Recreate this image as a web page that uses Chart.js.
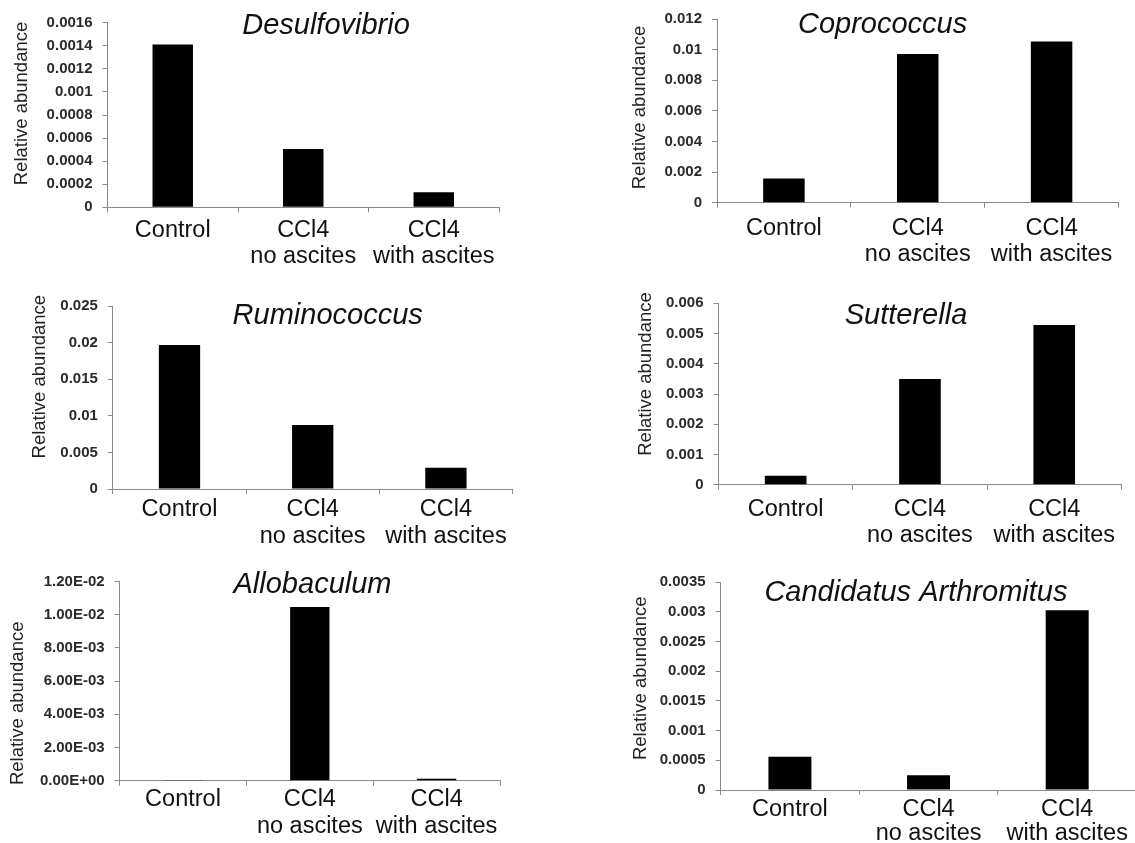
<!DOCTYPE html>
<html><head><meta charset="utf-8">
<script src="https://cdn.jsdelivr.net/npm/chart.js@4.4.0/dist/chart.umd.min.js"></script>
<style>
html,body{margin:0;padding:0;background:#fff;width:1135px;height:843px;overflow:hidden;position:relative}
canvas{position:absolute}
</style></head><body>
<script>
// ---------- data ----------
const categories = ['Control', ['CCl4', 'no ascites'], ['CCl4', 'with ascites']];
const yAxisTitle = 'Relative abundance';
const titles = ['Desulfovibrio', 'Coprococcus', 'Ruminococcus', 'Sutterella', 'Allobaculum', 'Candidatus Arthromitus'];

const desulfovibrio = [0.00141, 0.000505, 0.00013];
const coprococcus   = [0.00158, 0.00971, 0.01053];
const ruminococcus  = [0.01967, 0.00874, 0.00291];
const sutterella    = [0.0003, 0.0035, 0.00528];
const allobaculum   = [0.00004, 0.01046, 0.00012];
const candidatus    = [0.00056, 0.00025, 0.00303];

const desulfovibrioTicks = ['0', '0.0002', '0.0004', '0.0006', '0.0008', '0.001', '0.0012', '0.0014', '0.0016'];
const coprococcusTicks   = ['0', '0.002', '0.004', '0.006', '0.008', '0.01', '0.012'];
const ruminococcusTicks  = ['0', '0.005', '0.01', '0.015', '0.02', '0.025'];
const sutterellaTicks    = ['0', '0.001', '0.002', '0.003', '0.004', '0.005', '0.006'];
const allobaculumTicks   = ['0.00E+00', '2.00E-03', '4.00E-03', '6.00E-03', '8.00E-03', '1.00E-02', '1.20E-02'];
const candidatusTicks    = ['0', '0.0005', '0.001', '0.0015', '0.002', '0.0025', '0.003', '0.0035'];

const seriesList = [desulfovibrio, coprococcus, ruminococcus, sutterella, allobaculum, candidatus];
const tickList = [desulfovibrioTicks, coprococcusTicks, ruminococcusTicks, sutterellaTicks, allobaculumTicks, candidatusTicks];

// ---------- layout (page coordinates) ----------
const layout = [
  {box: [0, 0, 567, 280],   area: [107.5, 22.7, 499, 207.3],   title: [326, 34],    ytitle: [21.5, 103.5], first: 23,   lh: 26.5},
  {box: [567, 0, 573, 280], area: [717, 17.3, 1118.5, 202.7],  title: [882.6, 33.3], ytitle: [640.3, 107.5], first: 25.6, lh: 26.5},
  {box: [0, 280, 567, 270], area: [112.9, 306, 512.5, 489],    title: [327.7, 324], ytitle: [39.6, 376.7], first: 21,   lh: 26.5},
  {box: [567, 280, 573, 270], area: [718.5, 303.3, 1121.4, 484.7], title: [906, 324], ytitle: [645.7, 374], first: 25.3, lh: 25.5},
  {box: [0, 550, 567, 293], area: [119.6, 581.5, 500, 780.7],  title: [312.5, 593.3], ytitle: [17.9, 703.3], first: 19.3, lh: 26.5},
  {box: [567, 550, 573, 293], area: [720.6, 582.3, 1136.5, 790], title: [915.9, 600.7], ytitle: [641, 678.3], first: 20, lh: 24}
];

const FAMILY = '"Liberation Sans", Arial, Helvetica, sans-serif';
const AXIS = '#8a8a8a';
const X_FONT = 23.5;
const TICK_LEN = 5;

const panelText = {
  id: 'panelText',
  afterDraw(chart, args, o) {
    const ctx = chart.ctx;
    ctx.save();
    ctx.fillStyle = '#111';
    ctx.font = 'italic 29px ' + FAMILY;
    ctx.textAlign = 'center';
    ctx.textBaseline = 'alphabetic';
    ctx.fillText(o.title, o.titleX, o.titleY);
    ctx.translate(o.yTitleX, o.yTitleY);
    ctx.rotate(-Math.PI / 2);
    ctx.fillStyle = '#222';
    ctx.font = '18.5px ' + FAMILY;
    ctx.textBaseline = 'middle';
    ctx.fillText(o.yTitle, 0, 0);
    ctx.restore();
  }
};

layout.forEach((L, i) => {
  const [bx, by, bw, bh] = L.box;
  const [al, at, ar, ab] = L.area;
  const cv = document.createElement('canvas');
  cv.width = bw; cv.height = bh;
  cv.style.left = bx + 'px'; cv.style.top = by + 'px';
  cv.style.width = bw + 'px'; cv.style.height = bh + 'px';
  document.body.appendChild(cv);

  const labels = tickList[i];
  const values = labels.map(parseFloat);
  const yWidth = al - bx;
  const xHeight = by + bh - ab;
  const lineH = L.lh;
  const xPad = L.first - TICK_LEN - lineH / 2;

  new Chart(cv, {
    type: 'bar',
    data: {
      labels: categories,
      datasets: [{
        data: seriesList[i],
        backgroundColor: '#000',
        borderWidth: 0,
        barPercentage: 0.31,
        categoryPercentage: 1
      }]
    },
    options: {
      responsive: false,
      animation: false,
      devicePixelRatio: 1,
      layout: {
        padding: {
          left: 0,
          top: at - by,
          right: bx + bw - ar,
          bottom: 0
        }
      },
      plugins: {
        legend: {display: false},
        tooltip: {enabled: false},
        panelText: {
          title: titles[i],
          titleX: L.title[0] - bx, titleY: L.title[1] - by,
          yTitle: yAxisTitle,
          yTitleX: L.ytitle[0] - bx, yTitleY: L.ytitle[1] - by
        }
      },
      scales: {
        x: {
          grid: {display: true, drawOnChartArea: false, drawTicks: true, tickLength: TICK_LEN, color: AXIS, offset: true},
          border: {display: true, color: AXIS, width: 1},
          ticks: {
            color: '#111', autoSkip: false, maxRotation: 0, minRotation: 0,
            padding: xPad,
            font: {family: FAMILY, size: X_FONT, lineHeight: lineH / X_FONT}
          },
          afterFit: s => { s.height = xHeight; }
        },
        y: {
          min: 0,
          max: values[values.length - 1],
          afterBuildTicks: s => { s.ticks = values.map(v => ({value: v})); },
          grid: {display: true, drawOnChartArea: false, drawTicks: true, tickLength: TICK_LEN, color: AXIS},
          border: {display: true, color: AXIS, width: 1},
          ticks: {
            color: '#2a2a2a', padding: 10,
            font: {family: FAMILY, size: 15, weight: 'bold'},
            callback: (v, idx) => labels[idx]
          },
          afterFit: s => { s.width = yWidth; }
        }
      }
    },
    plugins: [panelText]
  });
});
</script>
</body></html>
